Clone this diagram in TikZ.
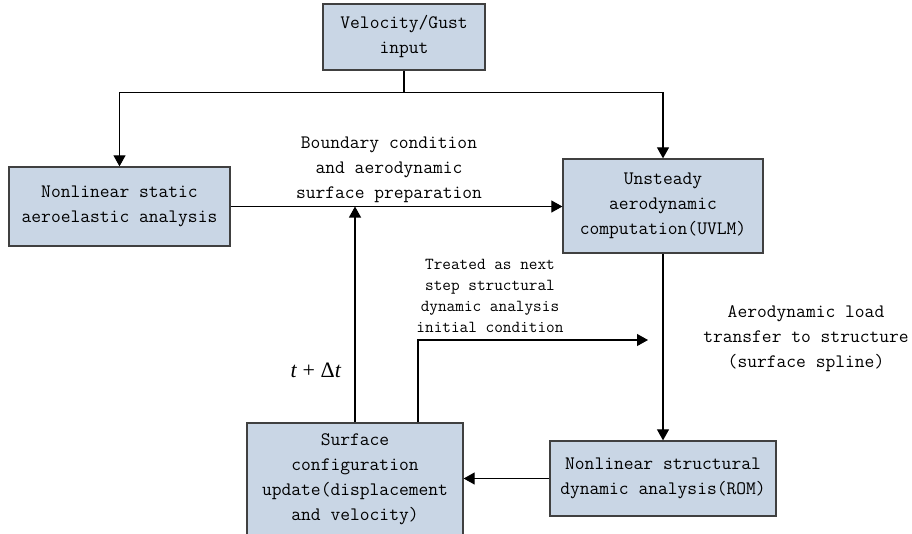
\documentclass[tikz,border=0pt]{standalone}
\usepackage{fontspec}
\newfontfamily\timesfont{Liberation Serif}
\usetikzlibrary{arrows.meta}
\definecolor{boxfill}{RGB}{201,214,229}
\definecolor{boxline}{RGB}{64,64,64}
\begin{document}
\begin{tikzpicture}[x=1pt,y=-1pt,
 box/.style={draw=boxline, line width=1.3pt, fill=boxfill, align=center, font=\fontsize{19}{25}\ttfamily, inner sep=0pt},
 lbl/.style={align=center, font=\fontsize{19}{25}\ttfamily, inner sep=0pt},
 small/.style={align=center, font=\fontsize{16.8}{21}\ttfamily, inner sep=0pt},
 conn/.style={line width=1.1pt, -{Triangle[length=11pt,width=12pt]}},
 plain/.style={line width=1.1pt}]
\useasboundingbox (0,0) rectangle (912,533);
\clip (0,0) rectangle (912,533);
\node[box, minimum width=162pt, minimum height=66pt] (vel) at (404,37) {Velocity/Gust\\input};
\node[box, minimum width=221pt, minimum height=79pt] (left) at (119.5,206.5) {Nonlinear static\\aeroelastic analysis};
\node[box, minimum width=200pt, minimum height=94pt] (right) at (663,206) {Unsteady\\aerodynamic\\computation(UVLM)};
\node[box, minimum width=226pt, minimum height=75pt] (br) at (663,478.5) {Nonlinear structural\\dynamic analysis(ROM)};
\node[box, minimum width=216pt, minimum height=113pt] (bl) at (355,479.5) {Surface\\configuration\\update(displacement\\and velocity)};
\node[lbl] (lab1) at (389,170) {Boundary condition\\and aerodynamic\\surface preparation};
\node[small] (lab2) at (490,296) {Treated as next\\step structural\\dynamic analysis\\initial condition};
\node[lbl] (lab3) at (806,339) {Aerodynamic load\\transfer to structure\\(surface spline)};
\node[inner sep=0pt, font=\fontsize{22}{26}\timesfont] (dt) at (316,370) {\textit{t} + Δ\textit{t}};
\coordinate (tipc) at (648,340);
\draw[plain] (vel.south) -- ++(0,22) coordinate (split);
\draw[conn] (split) -| (left.north);
\draw[conn] (split) -| (right.north);
\draw[conn] (left.east) -- (left.east -| right.west);
\draw[conn] (bl.north) -- (bl.north |- left.east);
\draw[conn] ([xshift=63pt]bl.north) |- (tipc);
\draw[conn] (right.south) -- (br.north);
\draw[conn] (br.west) -- (br.west -| bl.east);
\end{tikzpicture}
\end{document}
